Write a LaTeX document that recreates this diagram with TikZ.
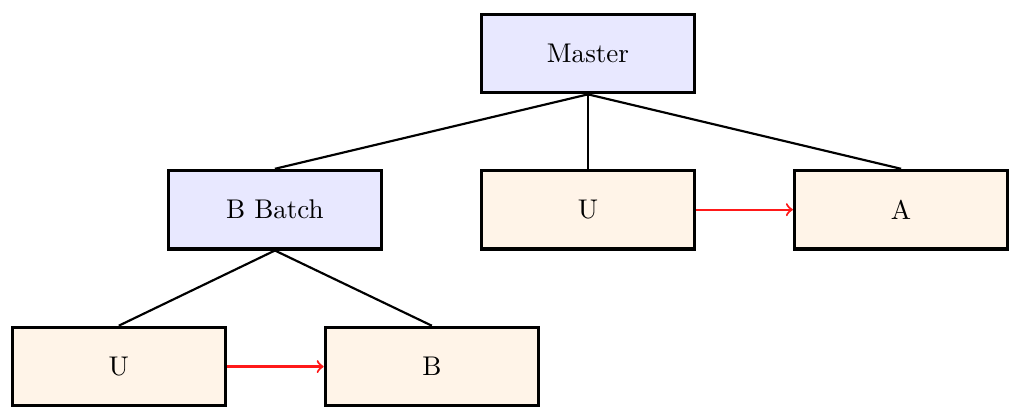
\documentclass[tikz,border=0pt]{standalone}
\usepackage{amssymb,amsmath}
\usepackage{tikz}
\usetikzlibrary{%
  arrows,%
  calc%
}
\tikzset{>=to}
\tikzset{
  box/.style={draw,very thick,minimum width=2.77cm,minimum height=1.02cm,inner sep=2pt},
  bluebox/.style={box,fill=blue!9},
  orangebox/.style={box,fill=orange!9},
  tree/.style={thick},
  redarrow/.style={->,thick,red!90}
}

\begin{document}
\begin{tikzpicture}
        \useasboundingbox (-7.644,0.6955) rectangle (5.668,-4.7645);
        \node[bluebox] (master) at (0,0) {Master};
        \node[bluebox] (batch) at (-4.07,-2.03) {B Batch};
        \node[orangebox] (u1) at (0,-2.03) {U};
        \node[orangebox] (a1) at (4.07,-2.03) {A};
        \node[orangebox] (u2) at (-6.10,-4.07) {U};
        \node[orangebox] (b2) at (-2.03,-4.07) {B};
        \draw[tree] (master.south) -- (batch.north);
        \draw[tree] (master.south) -- (u1.north);
        \draw[tree] (master.south) -- (a1.north);
        \draw[tree] (batch.south) -- (u2.north);
        \draw[tree] (batch.south) -- (b2.north);
        \draw[redarrow] (u1.east) -- (a1.west);
        \draw[redarrow] (u2.east) -- (b2.west);
      \end{tikzpicture}
\end{document}
